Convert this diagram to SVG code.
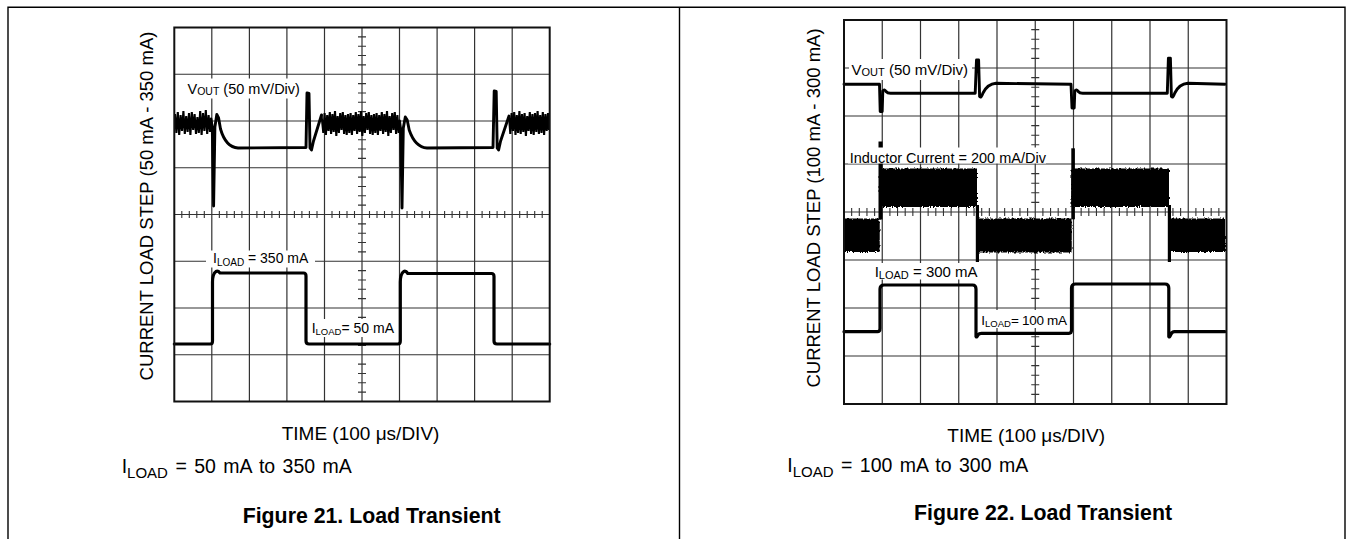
<svg xmlns="http://www.w3.org/2000/svg" width="1353" height="539" viewBox="0 0 1353 539">
<defs>
<style>
.frame{fill:none;stroke:#000;stroke-width:1.4}
.border{fill:none;stroke:#111;stroke-width:2}
.grid{fill:none;stroke:#333;stroke-width:1.2}
.tick{fill:none;stroke:#333;stroke-width:1.1}
.trace{fill:none;stroke:#000;stroke-width:2.9;stroke-linejoin:round;stroke-linecap:round}
.thick{fill:none;stroke:#000;stroke-width:3.2;stroke-linejoin:round;stroke-linecap:round}
.noise{fill:none;stroke:#000;stroke-width:2.1}
.bg{fill:#fff}
text{font-family:"Liberation Sans",Arial,Helvetica,sans-serif;fill:#000}
.axis{font-size:18.5px}
.time{font-size:19px}
.cond{font-size:19.5px}
.cap{font-size:21.3px;font-weight:bold}
</style>
<filter id="rough" x="-5%" y="-20%" width="110%" height="140%">
<feTurbulence type="fractalNoise" baseFrequency="0.6 0.4" numOctaves="2" seed="4" result="n"/>
<feDisplacementMap in="SourceGraphic" in2="n" scale="4" xChannelSelector="R" yChannelSelector="G"/>
</filter>
</defs>
<rect width="1353" height="539" fill="#fff"/>
<g id="frame">
<path class="frame" d="M8,539V7.3H1345V539M679.5,7.3V539"/>
</g>

<g id="fig21">
<g id="grid21">
<path class="grid" d="M211.8,27.5V401.5M249.4,27.5V401.5M286.9,27.5V401.5M324.5,27.5V401.5M362,27.5V401.5M399.5,27.5V401.5M437.1,27.5V401.5M474.6,27.5V401.5M512.2,27.5V401.5M174.3,74.25H549.7M174.3,121H549.7M174.3,167.75H549.7M174.3,214.5H549.7M174.3,261.25H549.7M174.3,308H549.7M174.3,354.75H549.7"/>
<path class="tick" d="M358,36.85h8M358,46.2h8M358,55.55h8M358,64.9h8M358,83.6h8M358,92.95h8M358,102.3h8M358,111.65h8M358,130.35h8M358,139.7h8M358,149.05h8M358,158.4h8M358,177.1h8M358,186.45h8M358,195.8h8M358,205.15h8M358,223.85h8M358,233.2h8M358,242.55h8M358,251.9h8M358,270.6h8M358,279.95h8M358,289.3h8M358,298.65h8M358,317.35h8M358,326.7h8M358,336.05h8M358,345.4h8M358,364.1h8M358,373.45h8M358,382.8h8M358,392.15h8"/>
<path class="tick" d="M181.8,211v7M189.3,211v7M196.8,211v7M204.3,211v7M219.35,211v7M226.85,211v7M234.35,211v7M241.9,211v7M256.9,211v7M264.4,211v7M271.9,211v7M279.4,211v7M294.4,211v7M301.9,211v7M309.4,211v7M317,211v7M332,211v7M339.5,211v7M347,211v7M354.5,211v7M369.5,211v7M377,211v7M384.5,211v7M392,211v7M407.05,211v7M414.55,211v7M422.05,211v7M429.55,211v7M444.6,211v7M452.1,211v7M459.6,211v7M467.1,211v7M482.1,211v7M489.6,211v7M497.1,211v7M504.7,211v7M519.7,211v7M527.2,211v7M534.7,211v7M542.2,211v7"/>
</g>
<g id="traces21">
<polyline class="noise" points="175,114 176.4,133 177.8,112 179.2,135 180.6,115 182,131 183.4,111 184.8,134 186.2,116 187.6,132 189,113 190.4,135 191.8,112 193.2,130 194.6,114 196,134 197.4,117 198.8,133 200.2,111 201.6,135 203,113 204.4,131 205.8,110 207.2,134 208.6,115 210,132 211,119"/>
<polyline class="noise" points="321.5,115 323.3,133 324.6,113 325.9,135 327.2,115 328.5,131 329.8,112 331.1,134 332.4,114 333.7,132 335,111 336.3,136 337.6,116 338.9,133 340.2,113 341.5,130 342.8,112 344.1,134 345.4,115 346.7,135 348,114 349.3,133 350.6,113 351.9,135 353.2,115 354.5,131 355.8,112 357.1,134 358.4,114 359.7,132 361,111 362.3,136 363.6,116 364.9,133 366.2,113 367.5,130 368.8,112 370.1,134 371.4,115 372.7,135 374,114 375.3,133 376.6,113 377.9,135 379.2,115 380.5,131 381.8,112 383.1,134 384.4,114 385.7,132 387,111 388.3,136 389.6,116 390.9,133 392.2,113 393.5,130 394.8,112 396.1,134 397.4,115 398.7,133 399.5,121"/>
<polyline class="noise" points="509,116 510.3,134 511.6,113 512.9,131 514.2,112 515.5,135 516.8,115 518.1,133 519.4,111 520.7,134 522,114 523.3,132 524.6,113 525.9,136 527.2,116 528.5,131 529.8,112 531.1,134 532.4,114 533.7,135 535,113 536.3,132 537.6,111 538.9,134 540.2,115 541.5,133 542.8,112 544.1,135 545.4,114 546.7,131 548,113 549,130"/>
<path class="trace" d="M211,119L212.3,128L213.6,206L214.9,127L216.8,114.5L218.6,118L220.5,129C224,141 229,147.5 238,148L306,147.5L307,93L309,93.5L310,148L311.5,150L313.5,141L321.5,115"/>
<path class="trace" d="M399.5,121L400.7,130L402,208L403.3,128L405.3,117L407.2,120L409.2,130C413,141 418,147.5 427,148L493,147.5L494.2,91L496.2,91.5L497.2,148L498.6,150L500.6,141L509,116"/>
<path class="thick" d="M174.3,344H210.5Q212.5,344 212.5,341V282Q212.5,274 216,271.5Q218,270.5 220,273H303.5Q306,273 306,276V341Q306,344 309,344H398Q400.3,344 400.3,341V282Q400.3,274 403.8,271.5Q405.8,270.5 407.8,273.5H491.5Q494,273.5 494,276.5V341Q494,344 497,344H549.7"/>
</g>
<g id="labels21">
<rect class="bg" x="185" y="78.5" width="119" height="20"/>
<text x="187.5" y="94.3" font-size="14.5">V<tspan font-size="10.5" dy="1">OUT</tspan><tspan dy="-1"> (50 mV/Div)</tspan></text>
<rect class="bg" x="206" y="250.5" width="109" height="17"/>
<text x="213" y="263.3" font-size="14">I<tspan font-size="10" dy="2.5">LOAD</tspan><tspan dy="-2.5"> = 350 mA</tspan></text>
<rect class="bg" x="310" y="319" width="87" height="18"/>
<text x="311.7" y="333.3" font-size="14">I<tspan font-size="9.5" dy="2">LOAD</tspan><tspan dy="-2">= 50 mA</tspan></text>
</g>
<rect class="border" x="174.3" y="27.5" width="375.4" height="374"/>
<text class="axis" transform="translate(153,206) rotate(-90)" text-anchor="middle">CURRENT LOAD STEP (50 mA - 350 mA)</text>
<text class="time" x="281.7" y="440">TIME (100 μs/DIV)</text>
<text class="cond" x="121.7" y="473.3">I<tspan font-size="15" dy="5">LOAD</tspan><tspan dy="-5" word-spacing="2"> = 50 mA to 350 mA</tspan></text>
<text class="cap" x="242.7" y="522.7">Figure 21. Load Transient</text>
</g>

<g id="fig22">
<g id="grid22">
<path class="grid" d="M882.25,20V404M920.5,20V404M958.75,20V404M997,20V404M1035.25,20V404M1073.5,20V404M1111.75,20V404M1150,20V404M1188.25,20V404M844,68H1226.5M844,116H1226.5M844,164H1226.5M844,212H1226.5M844,260H1226.5M844,308H1226.5M844,356H1226.5"/>
<path class="tick" d="M1031.25,29.6h8M1031.25,39.2h8M1031.25,48.8h8M1031.25,58.4h8M1031.25,77.6h8M1031.25,87.2h8M1031.25,96.8h8M1031.25,106.4h8M1031.25,125.6h8M1031.25,135.2h8M1031.25,144.8h8M1031.25,154.4h8M1031.25,173.6h8M1031.25,183.2h8M1031.25,192.8h8M1031.25,202.4h8M1031.25,221.6h8M1031.25,231.2h8M1031.25,240.8h8M1031.25,250.4h8M1031.25,269.6h8M1031.25,279.2h8M1031.25,288.8h8M1031.25,298.4h8M1031.25,317.6h8M1031.25,327.2h8M1031.25,336.8h8M1031.25,346.4h8M1031.25,365.6h8M1031.25,375.2h8M1031.25,384.8h8M1031.25,394.4h8"/>
<path class="tick" d="M851.65,208v8M859.3,208v8M866.95,208v8M874.6,208v8M889.9,208v8M897.55,208v8M905.2,208v8M912.85,208v8M928.15,208v8M935.8,208v8M943.45,208v8M951.1,208v8M966.4,208v8M974.05,208v8M981.7,208v8M989.35,208v8M1004.65,208v8M1012.3,208v8M1019.95,208v8M1027.6,208v8M1042.9,208v8M1050.55,208v8M1058.2,208v8M1065.85,208v8M1081.15,208v8M1088.8,208v8M1096.45,208v8M1104.1,208v8M1119.4,208v8M1127.05,208v8M1134.7,208v8M1142.35,208v8M1157.65,208v8M1165.3,208v8M1172.95,208v8M1180.6,208v8M1195.9,208v8M1203.55,208v8M1211.2,208v8M1218.85,208v8"/>
</g>
<g id="traces22">
<g filter="url(#rough)">
<rect x="844" y="218.5" width="35.5" height="33.5"/>
<rect x="879.5" y="168.5" width="97.5" height="38.5"/>
<rect x="977" y="218.5" width="94.5" height="34"/>
<rect x="1071.5" y="168.5" width="97.5" height="38.5"/>
<rect x="1169" y="218.5" width="56" height="33.5"/>
</g>
<rect x="844" y="221" width="35.5" height="28.5"/>
<rect x="879.5" y="171" width="97.5" height="33.5"/>
<rect x="977" y="221" width="94.5" height="29"/>
<rect x="1071.5" y="171" width="97.5" height="33.5"/>
<rect x="1169" y="221" width="56" height="28.5"/>
<rect x="878.5" y="141.5" width="4" height="78"/>
<rect x="975.8" y="205" width="3.2" height="57"/>
<rect x="1071.3" y="148.3" width="3.6" height="71"/>
<rect x="1167.8" y="205" width="3.2" height="57"/>
<path class="trace" d="M844,84.3H879.5L880.2,111.5L882.2,111.5L882.8,91Q884.3,88.5 886,91.5Q887.5,93.3 890.5,93.3H975.2L976.5,60L978.6,60L979.6,96.5Q981,98.5 983,93Q987.5,84 996,83.3L1071,84.3L1072,108L1074.2,108L1074.8,91Q1076.5,88.5 1078.2,91.5Q1079.7,93.3 1082.7,93.3H1167.3L1168.4,58.3L1170.4,58.3L1171.4,96.5Q1172.8,98.5 1174.8,93Q1179.3,84 1187.8,83.3L1225,84.3"/>
<path class="thick" d="M844,331.7H877.5Q880,331.7 880,328.5V289Q880,285 884,285H972.5Q976,285 976,289V336.5Q976.5,338 978,335Q979,333.3 981.5,333.3H1069Q1071.5,333.3 1071.5,330V288Q1071.5,284 1075.5,284H1165Q1168.8,284 1168.8,288V336.5Q1169.3,338 1170.8,334.5Q1172,331.7 1174.5,331.7H1225"/>
</g>
<g id="labels22">
<rect class="bg" x="849" y="59" width="123" height="21"/>
<text x="851.5" y="75" font-size="15">V<tspan font-size="11" dy="1">OUT</tspan><tspan dy="-1"> (50 mV/Div)</tspan></text>
<rect class="bg" x="848" y="147.5" width="198" height="16"/>
<text x="849.7" y="163.2" font-size="14.5">Inductor Current = 200 mA/Div</text>
<rect class="bg" x="872" y="263" width="106" height="16.5"/>
<text x="874.7" y="276.7" font-size="15">I<tspan font-size="11" dy="2.5">LOAD</tspan><tspan dy="-2.5"> = 300 mA</tspan></text>
<rect class="bg" x="980" y="310" width="89" height="18"/>
<text x="981.3" y="325" font-size="13.5">I<tspan font-size="9.5" dy="2">LOAD</tspan><tspan dy="-2" letter-spacing="-0.3">= 100 mA</tspan></text>
</g>
<rect class="border" x="844" y="20" width="382.5" height="384"/>
<text class="axis" transform="translate(820,208) rotate(-90)" text-anchor="middle">CURRENT LOAD STEP (100 mA - 300 mA)</text>
<text class="time" x="947.3" y="441.7">TIME (100 μs/DIV)</text>
<text class="cond" x="787.3" y="471.7">I<tspan font-size="15" dy="5">LOAD</tspan><tspan dy="-5" word-spacing="2"> = 100 mA to 300 mA</tspan></text>
<text class="cap" x="914" y="520">Figure 22. Load Transient</text>
</g>
</svg>
